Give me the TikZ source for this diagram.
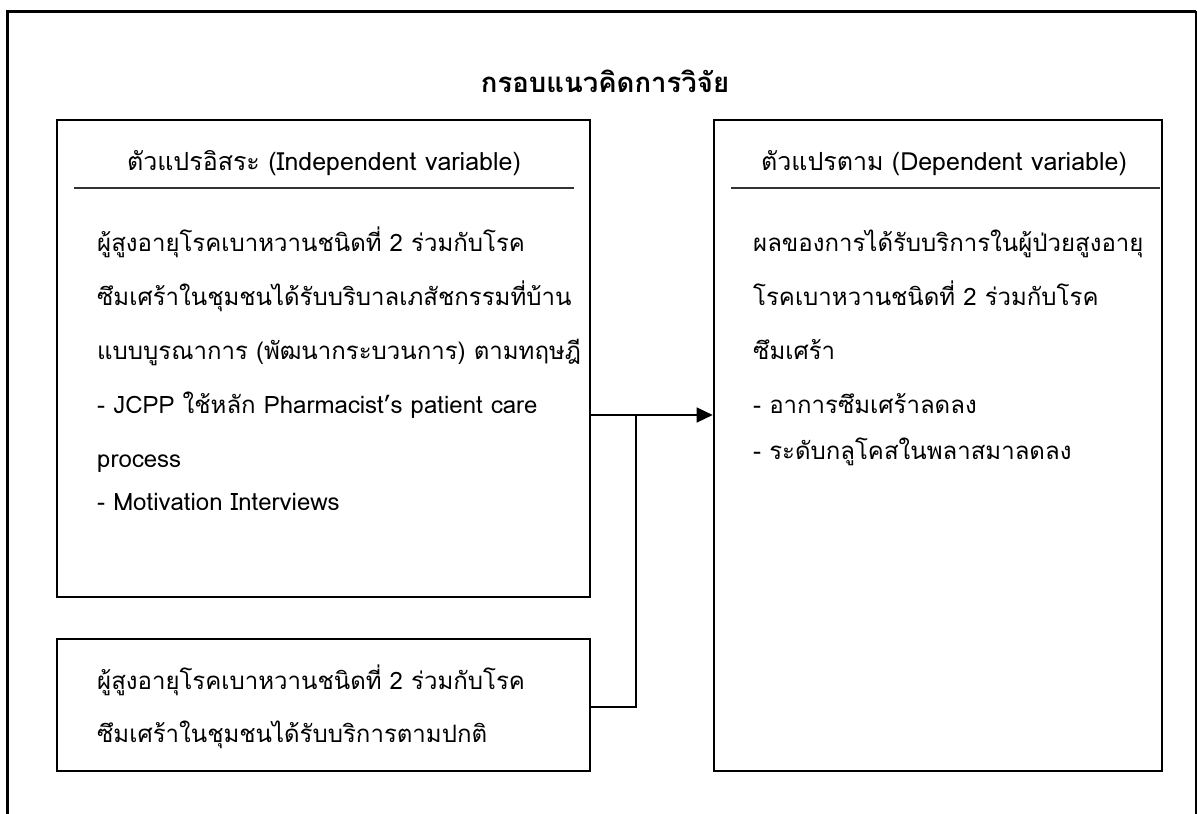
\documentclass[tikz,border=0pt]{standalone}
\usepackage{fontspec}
\setmainfont[Script=Thai]{Loma}
\usetikzlibrary{arrows.meta}
\tikzset{
  box/.style={draw, line width=2.6pt, rectangle, inner sep=0pt},
  bodytext/.style={anchor=base west, inner sep=0pt, font=\fontsize{24}{28}\selectfont},
  headtext/.style={anchor=base, inner sep=0pt, font=\fontsize{25}{29}\selectfont},
  sepline/.style={line width=1.3pt, draw=black!80},
  conn/.style={line width=1.4pt},
}
\begin{document}
\begin{tikzpicture}[x=1pt,y=-1pt]
\useasboundingbox (0,0) rectangle (1197,814);
% outer frame
\draw[line width=3pt] (7.5,814) -- (7.5,11) -- (1196,11);
\draw[line width=1.2pt] (1196,11) -- (1196,814);
% title
\node[anchor=base, inner sep=0pt, font=\fontsize{27.5}{32}\selectfont\bfseries] (title) at (605,92) {กรอบแนวคิดการวิจัย};
% boxes
\node[box, minimum width=533pt, minimum height=477pt] (ind) at (323.5,358.5) {};
\node[box, minimum width=533pt, minimum height=132pt] (ctl) at (323.5,705) {};
\node[box, minimum width=448pt, minimum height=651pt] (dep) at (938,445.5) {};
% headers
\node[headtext] (indh) at (324,170) {ตัวแปรอิสระ (Independent variable)};
\node[headtext] (deph) at (944,170) {ตัวแปรตาม (Dependent variable)};
\draw[sepline] (74,188) -- (574,188);
\draw[sepline] (731,188) -- (1160,188);
% left body
\node[bodytext] (l1) at (97,251) {ผู้สูงอายุโรคเบาหวานชนิดที่ 2 ร่วมกับโรค};
\node[bodytext] (l2) at (97,305) {ซึมเศร้าในชุมชนได้รับบริบาลเภสัชกรรมที่บ้าน};
\node[bodytext] (l3) at (97,359) {แบบบูรณาการ (พัฒนากระบวนการ) ตามทฤษฎี};
\node[bodytext] (l4) at (97,413) {- JCPP ใช้หลัก Pharmacist’s patient care};
\node[bodytext] (l5) at (97,467) {process};
\node[bodytext] (l6) at (97,510) {- Motivation Interviews};
% right body
\node[bodytext] (r1) at (753,251) {ผลของการได้รับบริการในผู้ป่วยสูงอายุ};
\node[bodytext] (r2) at (753,305) {โรคเบาหวานชนิดที่ 2 ร่วมกับโรค};
\node[bodytext] (r3) at (753,359) {ซึมเศร้า};
\node[bodytext] (r4) at (753,413) {- อาการซึมเศร้าลดลง};
\node[bodytext] (r5) at (753,459) {- ระดับกลูโคสในพลาสมาลดลง};
% lower body
\node[bodytext] (c1) at (97,689) {ผู้สูงอายุโรคเบาหวานชนิดที่ 2 ร่วมกับโรค};
\node[bodytext] (c2) at (97,742) {ซึมเศร้าในชุมชนได้รับบริการตามปกติ};
% connectors
\coordinate (ay) at (0,415);
\coordinate (by) at (0,707);
\coordinate (j) at (636,415);
\draw[conn, -{Triangle[length=16pt,width=15pt]}] (ind.east |- ay) -- (dep.west |- ay);
\draw[conn] (ctl.east |- by) -| (j);
\end{tikzpicture}
\end{document}
